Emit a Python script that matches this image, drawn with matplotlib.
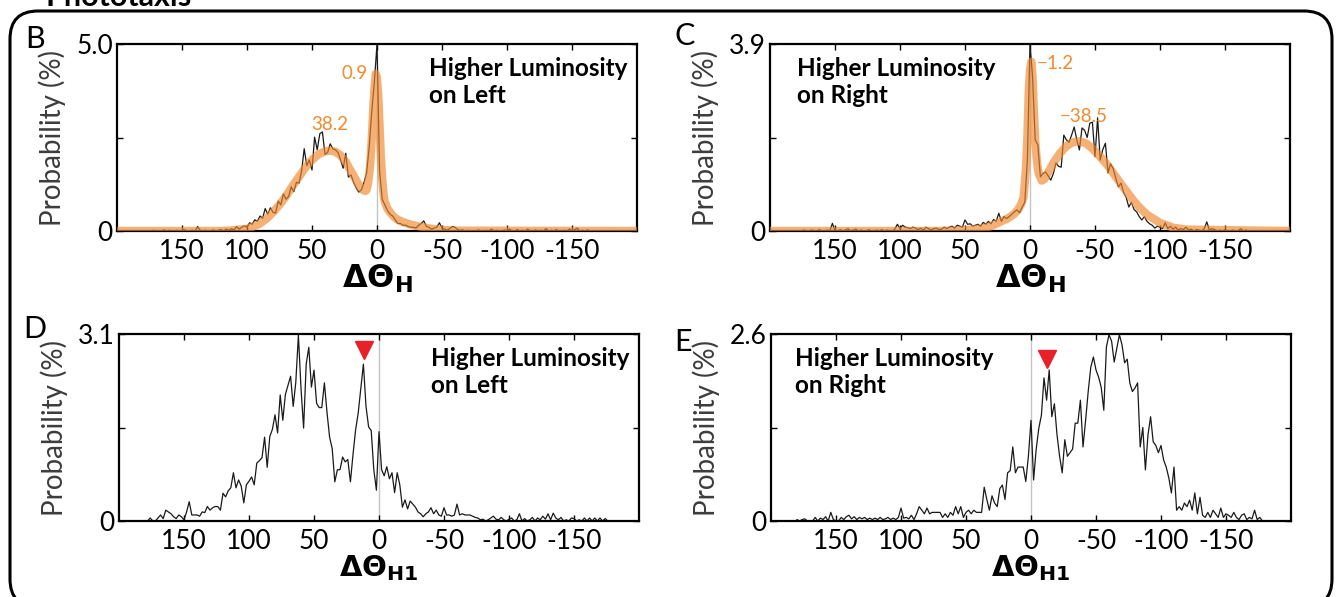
import numpy as np
import matplotlib
matplotlib.use('Agg')
import matplotlib.pyplot as plt
from matplotlib.patches import FancyBboxPatch

plt.rcParams['font.family'] = ['Lato', 'DejaVu Sans']
plt.rcParams['mathtext.fontset'] = 'dejavusans'

# bin centres (deg), plotted with reversed x axis
BINS = np.arange(180, -180, -2)

XTICKS = [150, 100, 50, 0, -50, -100, -150]
XTICK_LABELS = ['150', '100', '50', '0', '-50', '-100', '-150']

# panel B: Higher luminosity on left, delta theta_H
b_hist = [
    0, 0, 0, 0, 0.02, 0, 0, 0, 0.03, 0,                        # 180..162
    0.02, 0, 0, 0.02, 0, 0, 0.03, 0, 0, 0.02,                  # 160..142
    0, 0.12, 0.02, 0, 0.02, 0, 0, 0.03, 0, 0.02,               # 140..122
    0.04, 0, 0.05, 0.02, 0.06, 0.03, 0.12, 0.05, 0.1, 0.14,    # 120..102
    0.1, 0.22, 0.18, 0.3, 0.26, 0.4, 0.34, 0.6, 0.45, 0.62,    # 100..82
    0.5, 0.48, 0.8, 0.7, 0.99, 0.85, 0.92, 1.18, 1.05, 1.3,    # 80..62
    1.28, 1.6, 2.2, 1.75, 1.9, 1.63, 2.51, 2.17, 2.6, 2.65,    # 60..42
    2.05, 2.1, 2.33, 2.2, 2.17, 2.1, 1.9, 1.68, 2.08, 1.44,    # 40..22
    1.5, 1.3, 1.15, 1.04, 1.1, 1.3, 1.55, 2.25, 3.2, 4.0,      # 20..2
    5.0, 1.6, 0.85, 0.7, 0.55, 0.45, 0.4, 0.3, 0.2, 0.2,       # 0..-18
    0.15, 0.16, 0.12, 0.1, 0.1, 0.08, 0.15, 0.2, 0.27, 0.12,   # -20..-38
    0.1, 0.05, 0.08, 0.1, 0.22, 0.08, 0.05, 0.02, 0.07, 0.12,  # -40..-58
    0.1, 0.04, 0.02, 0.03, 0, 0.02, 0, 0.01, 0, 0.03,          # -60..-78
    0, 0, 0.02, 0, 0.05, 0, 0.02, 0, 0, 0.03,                  # -80..-98
    0, 0.05, 0, 0, 0.04, 0, 0.02, 0, 0.05, 0,                  # -100..-118
    0, 0.03, 0, 0.02, 0, 0.06, 0, 0.02, 0, 0.04,               # -120..-138
    0, 0, 0.02, 0, 0.05, 0, 0.03, 0.08, 0, 0.02,               # -140..-158
    0, 0.03, 0, 0, 0, 0, 0, 0, 0, 0,                           # -160..-178
]
b_fit_x = [200, 120, 110, 100, 95, 90, 85, 80, 75, 70,
           65, 60, 55, 50, 45, 40, 36, 32, 28, 24,
           20, 16, 13, 11, 9, 8, 7, 6, 5, 4,
           3, 2, 1, 0, -1, -2, -3, -4, -5, -6,
           -8, -10, -13, -16, -20, -25, -30, -40, -50, -60, -200]
b_fit_y = [0, 0, 0.02, 0.06, 0.12, 0.2, 0.33, 0.5, 0.7, 0.93,
           1.2, 1.45, 1.7, 1.9, 2.05, 2.13, 2.15, 2.12, 2.02, 1.85,
           1.6, 1.35, 1.18, 1.1, 1.07, 1.1, 1.25, 1.5, 1.9, 2.5,
           3.2, 3.8, 4.2, 4.1, 3.6, 2.8, 2.0, 1.4, 1.0, 0.78,
           0.6, 0.5, 0.38, 0.3, 0.24, 0.18, 0.14, 0.07, 0.03, 0.01, 0]

# panel C: Higher luminosity on right, delta theta_H
c_hist = [
    0, 0, 0, 0.02, 0, 0, 0.02, 0, 0, 0.03,
    0, 0, 0.02, 0, 0.16, 0, 0, 0.03, 0, 0.02,
    0.05, 0, 0.02, 0.04, 0, 0.02, 0, 0, 0.03, 0,
    0, 0.02, 0, 0.03, 0, 0.02, 0, 0, 0.04, 0.14,
    0.05, 0.12, 0.08, 0.07, 0.05, 0.08, 0.06, 0.03, 0.06, 0.02,
    0.08, 0.05, 0.02, 0.05, 0.06, 0.03, 0.04, 0.08, 0.05, 0.08,
    0.1, 0.06, 0.12, 0.1, 0.08, 0.23, 0.14, 0.15, 0.1, 0.12,
    0.14, 0.1, 0.18, 0.14, 0.2, 0.15, 0.24, 0.2, 0.37, 0.2,
    0.3, 0.26, 0.3, 0.35, 0.4, 0.44, 0.38, 0.5, 0.6, 1.5,
    3.9, 3.2, 1.9, 1.8, 1.13, 1.2, 1.23, 1.15, 1.06, 1.2,
    1.42, 1.35, 1.33, 2.0, 1.9, 1.85, 2.0, 2.17, 1.9, 1.69,
    2.15, 2.1, 1.95, 2.25, 2.27, 1.55, 2.36, 1.48, 1.7, 1.83,
    1.21, 1.4, 1.3, 1.1, 0.92, 1.0, 0.8, 0.7, 0.5, 0.6,
    0.45, 0.4, 0.3, 0.23, 0.3, 0.2, 0.15, 0.12, 0.06, 0.1,
    0.08, 0.05, 0.17, 0.05, 0.1, 0.04, 0.08, 0.02, 0.05, 0.03,
    0.08, 0.02, 0.04, 0, 0.03, 0.02, 0, 0.05, 0.19, 0.02,
    0.05, 0.03, 0, 0.02, 0, 0.03, 0, 0, 0.02, 0,
    0, 0.05, 0, 0.02, 0, 0, 0, 0, 0, 0,
]
c_fit_x = [200, 70, 55, 45, 36, 30, 23, 18, 15, 12,
           9, 7, 5, 4, 3, 2, 1, 0, -1, -2,
           -3, -4, -5, -6, -7, -9, -11, -13, -15, -18,
           -23, -28, -33, -38, -43, -48, -55, -60, -65, -70,
           -75, -80, -85, -90, -100, -110, -120, -200]
c_fit_y = [0, 0, 0.01, 0.03, 0.06, 0.1, 0.19, 0.25, 0.3, 0.36,
           0.45, 0.55, 0.7, 1.0, 1.35, 2.0, 2.9, 3.35, 3.53, 3.2,
           2.5, 1.9, 1.55, 1.3, 1.18, 1.05, 1.08, 1.17, 1.27, 1.42,
           1.62, 1.77, 1.85, 1.87, 1.83, 1.72, 1.52, 1.36, 1.17, 0.98,
           0.8, 0.62, 0.47, 0.34, 0.17, 0.07, 0.03, 0]

# panel D: Higher luminosity on left, delta theta_H1
d_hist = [
    0, 0, 0.05, 0, 0, 0.05, 0.1, 0.04, 0.18, 0.15,
    0.12, 0.07, 0.04, 0.1, 0.07, 0.02, 0.15, 0.32, 0.1, 0.1,
    0.1, 0.08, 0.15, 0.14, 0.24, 0.18, 0.22, 0.24, 0.24, 0.18,
    0.46, 0.4, 0.5, 0.55, 0.8, 0.55, 0.68, 0.58, 0.3, 0.6,
    0.66, 0.73, 0.6, 0.96, 1.0, 1.05, 1.39, 0.89, 1.4, 1.52,
    1.76, 1.46, 2.09, 1.67, 2.1, 2.25, 2.4, 1.9, 2.3, 3.08,
    2.2, 1.54, 2.6, 2.88, 2.22, 2.5, 1.95, 1.88, 1.88, 2.29,
    1.8, 1.39, 1.2, 0.65, 0.85, 0.85, 1.06, 0.98, 1.02, 0.65,
    1.1, 1.51, 1.79, 2.2, 2.6, 1.9, 1.56, 1.5, 0.85, 0.51,
    1.48, 0.85, 0.75, 0.9, 0.7, 0.8, 0.47, 0.8, 0.6, 0.23,
    0.35, 0.2, 0.33, 0.28, 0.23, 0.15, 0.12, 0.07, 0.12, 0.15,
    0.22, 0.12, 0.18, 0.1, 0.08, 0.22, 0.1, 0.1, 0.08, 0.1,
    0.28, 0.1, 0.12, 0.1, 0.1, 0.1, 0.08, 0.06, 0.05, 0.02,
    0.03, 0, 0.02, 0.05, 0.08, 0.03, 0.02, 0.06, 0.02, 0,
    0.03, 0.05, 0, 0.02, 0.12, 0, 0.04, 0, 0.02, 0.06,
    0, 0.05, 0.02, 0.08, 0.03, 0.12, 0.02, 0.13, 0.05, 0.02,
    0.06, 0, 0.02, 0, 0.05, 0.04, 0, 0.02, 0, 0.05,
    0, 0.05, 0, 0.05, 0, 0.05, 0, 0.04, 0, 0,
]

# panel E: Higher luminosity on right, delta theta_H1
e_hist = [
    0.02, 0, 0.02, 0.03, 0, 0, 0, 0.05, 0, 0.04,
    0.02, 0.06, 0, 0.12, 0.02, 0, 0, 0.05, 0.02, 0.06,
    0.08, 0.03, 0.06, 0.02, 0.05, 0.03, 0.05, 0.02, 0.04, 0.02,
    0.04, 0.02, 0.05, 0.02, 0.03, 0.05, 0.02, 0.04, 0.02, 0.05,
    0.18, 0.04, 0.05, 0.03, 0.08, 0.02, 0.1, 0.2, 0.15, 0.1,
    0.18, 0.1, 0.12, 0.12, 0.12, 0.12, 0.05, 0.1, 0.05, 0.12,
    0.08, 0.2, 0.1, 0.2, 0.05, 0.12, 0.15, 0.1, 0.15, 0.12,
    0.12, 0.12, 0.47, 0.3, 0.15, 0.35, 0.25, 0.2, 0.45, 0.5,
    0.3, 0.67, 0.7, 1.03, 0.67, 0.75, 0.75, 0.75, 0.55, 0.9,
    1.4, 0.57, 1.0, 1.29, 1.47, 1.99, 1.68, 2.1, 1.45, 1.63,
    1.2, 0.9, 0.67, 1.13, 0.9, 0.95, 1.0, 1.36, 1.36, 1.68,
    1.03, 1.4, 1.8, 2.14, 2.28, 2.1, 2.0, 1.86, 1.54, 2.42,
    2.59, 2.5, 2.21, 2.4, 2.59, 2.45, 2.2, 2.25, 1.92, 1.8,
    1.85, 1.92, 1.03, 1.3, 0.71, 1.2, 1.45, 1.1, 1.05, 0.95,
    1.05, 0.85, 0.75, 0.6, 0.39, 0.75, 0.15, 0.2, 0.15, 0.25,
    0.2, 0.29, 0.15, 0.39, 0.1, 0.33, 0.08, 0.05, 0.12, 0.05,
    0.15, 0.1, 0.05, 0.18, 0.05, 0.1, 0.08, 0.05, 0.12, 0.05,
    0.02, 0.08, 0.1, 0.02, 0.05, 0.03, 0.15, 0.02, 0.05, 0,
]

ORANGE = '#F0882C'
ORANGE_TXT = '#F28A2E'
W, H = 1336, 597

fig = plt.figure(figsize=(W / 100, H / 100), dpi=100)

# rounded frame + section title (cut at the top edge, as in the source)
bg = fig.add_axes([0, 0, 1, 1], zorder=-1)
bg.set_xlim(0, W)
bg.set_ylim(0, H)
bg.axis('off')
bg.add_patch(FancyBboxPatch((10, -10), 1322, H - 11 + 10,
                            boxstyle='round,pad=0,rounding_size=28',
                            fill=False, lw=2.2, ec='black', clip_on=False))
fig.text(45 / W, 1 - 6 / H, 'Phototaxis', fontsize=22, fontweight='bold',
         va='baseline', ha='left')


def setup(ax, ymax, ytop_lab, sub, xlab_size):
    ax.set_xlim(200, -200)
    ax.set_ylim(0, ymax)
    ax.set_xticks(XTICKS)
    ax.set_xticklabels(XTICK_LABELS)
    ax.set_yticks([0, ymax / 2, ymax])
    ax.set_yticklabels(['0', '', ytop_lab])
    ax.tick_params(direction='in', top=True, right=True, length=4, width=1,
                   labelsize=19)
    ax.tick_params(axis='x', pad=6)
    ax.tick_params(axis='y', pad=3)
    for s in ax.spines.values():
        s.set_linewidth(1.6)
    ax.axvline(0, color='#c4c4c4', lw=1, zorder=1)
    ax.set_ylabel('Probability (%)', fontsize=20, color='#3c3c3c')
    ax.yaxis.set_label_coords(-0.098, 0.5)
    ax.set_xlabel('ΔΘ$_\\mathbf{%s}$' % sub, fontsize=xlab_size,
                  fontweight='bold', family='DejaVu Sans', labelpad=-1)


# axes rectangles in figure fractions
axB = fig.add_axes([117 / W, 1 - 231 / H, 520 / W, 187 / H])
axC = fig.add_axes([770 / W, 1 - 231 / H, 520 / W, 187 / H])
axD = fig.add_axes([119 / W, 1 - 521 / H, 520 / W, 187 / H])
axE = fig.add_axes([771 / W, 1 - 521 / H, 520 / W, 187 / H])

setup(axB, 5.0, '5.0', 'H', 23)
setup(axC, 3.9, '3.9', 'H', 23)
setup(axD, 3.1, '3.1', 'H1', 21)
setup(axE, 2.6, '2.6', 'H1', 21)

for ax, hist in [(axB, b_hist), (axC, c_hist), (axD, d_hist), (axE, e_hist)]:
    ax.plot(BINS, hist, color='#1a1a1a', lw=0.9, zorder=2)

axB.plot(b_fit_x, b_fit_y, color=ORANGE, lw=6, alpha=0.65, zorder=3,
         solid_capstyle='butt')
axC.plot(c_fit_x, c_fit_y, color=ORANGE, lw=6, alpha=0.65, zorder=3,
         solid_capstyle='butt')

axB.text(36, 2.86, '38.2', color=ORANGE_TXT, fontsize=13.5, ha='center', va='center')
axB.text(17, 4.22, '0.9', color=ORANGE_TXT, fontsize=13.5, ha='center', va='center')
axC.text(-19, 3.5, '\u22121.2', color=ORANGE_TXT, fontsize=13.5, ha='center', va='center')
axC.text(-41, 2.38, '\u221238.5', color=ORANGE_TXT, fontsize=13.5, ha='center', va='center')

axD.plot([11.5], [2.84], marker='v', ms=13, color='#E8202A', mec='#E8202A', zorder=4)
axE.plot([-12.4], [2.25], marker='v', ms=13, color='#E8202A', mec='#E8202A', zorder=4)

lum = dict(fontsize=17.5, fontweight='bold', va='top', ha='left',
           linespacing=1.2)
axB.text(0.6, 0.93, 'Higher Luminosity\non Left', transform=axB.transAxes, **lum)
axD.text(0.6, 0.93, 'Higher Luminosity\non Left', transform=axD.transAxes, **lum)
axC.text(0.052, 0.93, 'Higher Luminosity\non Right', transform=axC.transAxes, **lum)
axE.text(0.046, 0.93, 'Higher Luminosity\non Right', transform=axE.transAxes, **lum)

# panel letters
for txt, px, py in [('B', 35, 39), ('C', 685, 36), ('D', 35, 329), ('E', 683, 342)]:
    fig.text(px / W, 1 - py / H, txt, fontsize=22, ha='center', va='center')

fig.savefig('out.png', dpi=100)
